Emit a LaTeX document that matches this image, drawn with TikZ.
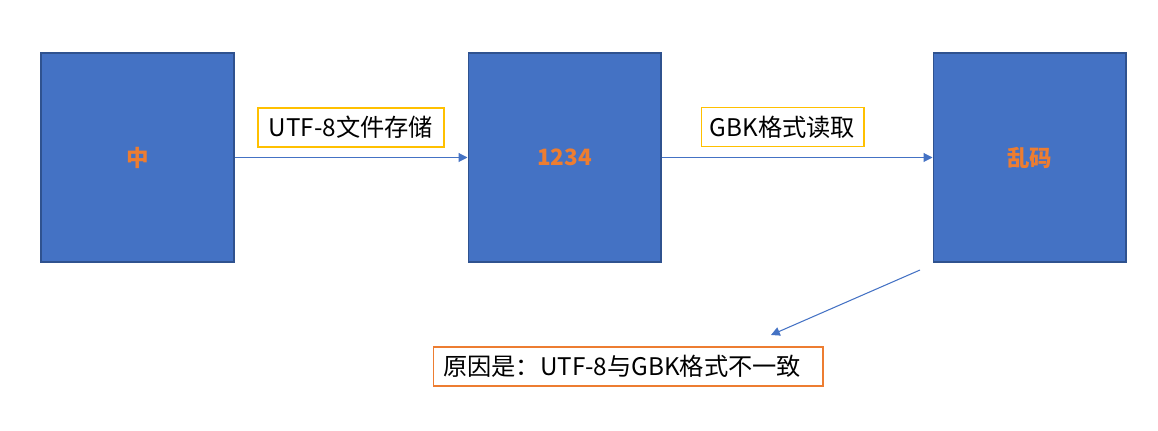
\documentclass[tikz,border=0pt]{standalone}
\usepackage{fontspec}
\setmainfont{Noto Sans CJK SC}
\usetikzlibrary{arrows.meta}
\definecolor{boxblue}{HTML}{4472C4}
\definecolor{boxedge}{HTML}{2F528F}
\definecolor{textorange}{HTML}{ED7D31}
\definecolor{labelyellow}{HTML}{FFC000}
\begin{document}
\begin{tikzpicture}[x=0.02cm,y=-0.02cm]
\tikzstyle{every node}+=[inner sep=0pt,font=\fontsize{13.8}{16}\selectfont]
\tikzstyle{stage}=[draw=boxedge,fill=boxblue,line width=0.6pt,minimum width=3.86cm,minimum height=4.18cm,text=textorange,font=\fontsize{12.8}{15}\selectfont\bfseries]
\tikzstyle{steplabel}=[draw=labelyellow,line width=0.6pt,minimum height=0.78cm]
\tikzstyle{flow}=[draw=boxblue,line width=0.6pt,-{Triangle[length=5pt,width=5pt]}]
\useasboundingbox (0,0) rectangle (1158,431);
% the three stages
\node [stage] (zhong) at (137.5,157.5) {中};
\node [stage] (bytes) at (564.5,157.5) {1234};
\node [stage] (luanma) at (1029.5,157.5) {乱码};
% labels on the connectors
\node [steplabel,minimum width=3.72cm] (save) at (351,127.5) {UTF-8文件存储};
\node [steplabel,minimum width=3.26cm] (read) at (782.5,127) {GBK格式读取};
\node [draw=textorange,line width=0.6pt,minimum width=7.8cm,minimum height=0.78cm,text width=7.4cm,align=left] (reason) at (628,366.5) {原因是：UTF-8与GBK格式不一致};
% connectors
\draw [flow] (zhong) -- (bytes);
\draw [flow] (bytes) -- (luanma);
\coordinate (from) at (920,270);
\coordinate (to) at (771,335);
\draw [flow] (from) -- (to);
\end{tikzpicture}
\end{document}
